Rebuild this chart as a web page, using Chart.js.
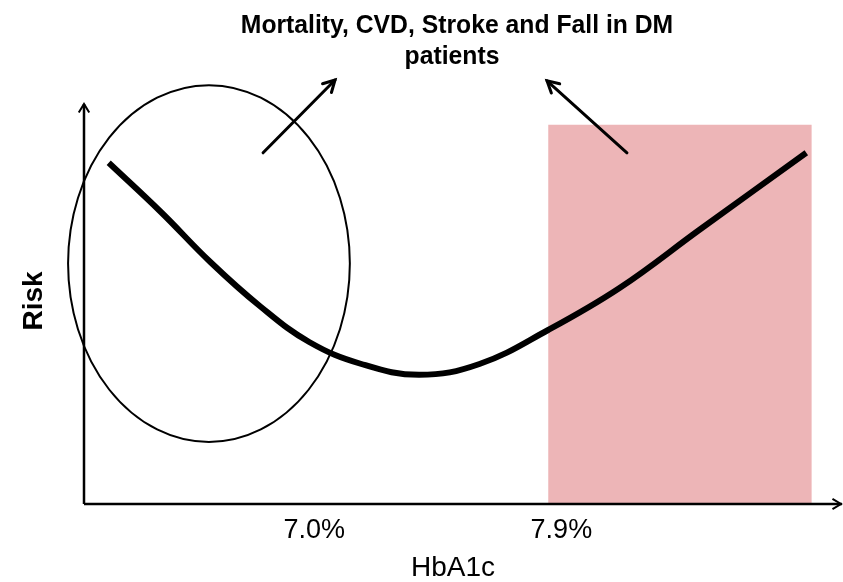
<!DOCTYPE html>
<html>
<head>
<meta charset="utf-8">
<title>HbA1c and Risk</title>
<script src="https://cdn.jsdelivr.net/npm/chart.js@4/dist/chart.umd.min.js"></script>
<style>
  html, body { margin: 0; padding: 0; background: #ffffff; }
  #wrap { width: 843px; height: 582px; }
</style>
</head>
<body>
<div id="wrap"><canvas id="c" width="843" height="582"></canvas></div>
<script>
// U-shaped risk curve against HbA1c
const hba1c = [6.25, 6.44, 6.62, 6.80, 6.98, 7.17, 7.38, 7.60, 7.85, 8.11, 8.40, 8.79];
const risk  = [85.3, 73.0, 60.5, 49.5, 40.5, 35.0, 32.3, 35.0, 43.5, 54.0, 68.5, 87.8];

// axis ranges and tick labels
const xRange = [6.16, 8.92];
const yRange = [0, 100];
const tickValues = [7.0, 7.9];
const tickLabels = ['7.0%', '7.9%'];

// shaded high-HbA1c band
const bandX = [7.85, 8.81];
const bandTop = 94.8;

// circled low-HbA1c region: centre and radii in data units
const circleCenter = [6.615, 60.1];
const circleRadius = [0.513, 44.6];

// pointer arrows: [tailX, tailY, tipX, tipY]
const pointer1 = [6.812, 87.8, 7.074, 106.0];
const pointer2 = [8.137, 87.8, 7.846, 105.8];

const titleLines = ['Mortality, CVD, Stroke and Fall in DM', 'patients'];
const xTitle = 'HbA1c';
const yTitle = 'Risk';

const FONT = '"Liberation Sans", Arial, sans-serif';

function arrowHead(ctx, x0, y0, x1, y1, len, spread) {
  const a = Math.atan2(y1 - y0, x1 - x0);
  ctx.beginPath();
  ctx.moveTo(x1 - len * Math.cos(a - spread), y1 - len * Math.sin(a - spread));
  ctx.lineTo(x1, y1);
  ctx.lineTo(x1 - len * Math.cos(a + spread), y1 - len * Math.sin(a + spread));
  ctx.stroke();
}

// centred text squeezed slightly in width
function narrowText(ctx, text, x, y, sx) {
  ctx.save();
  ctx.translate(x, y);
  ctx.scale(sx, 1);
  ctx.fillText(text, 0, 0);
  ctx.restore();
}

const decorations = {
  id: 'decorations',
  afterDatasetsDraw(chart) {
    const ctx = chart.ctx;
    const xs = chart.scales.x, ys = chart.scales.y;
    const area = chart.chartArea;
    ctx.save();
    ctx.strokeStyle = '#000';
    ctx.lineCap = 'butt';
    ctx.lineJoin = 'miter';

    // axes with arrow tips
    ctx.lineWidth = 2.5;
    ctx.beginPath();
    ctx.moveTo(area.left, area.bottom);
    ctx.lineTo(area.left, area.top);
    ctx.moveTo(area.left, area.bottom);
    ctx.lineTo(area.right, area.bottom);
    ctx.stroke();
    ctx.lineWidth = 2;
    arrowHead(ctx, area.left, area.bottom, area.left, area.top, 10, 0.55);
    arrowHead(ctx, area.left, area.bottom, area.right - 1, area.bottom, 10, 0.55);

    // ellipse around the low range
    const cx = xs.getPixelForValue(circleCenter[0]);
    const cy = ys.getPixelForValue(circleCenter[1]);
    const rx = xs.getPixelForValue(circleCenter[0] + circleRadius[0]) - cx;
    const ry = cy - ys.getPixelForValue(circleCenter[1] + circleRadius[1]);
    ctx.lineWidth = 2;
    ctx.beginPath();
    ctx.ellipse(cx, cy, rx, ry, 0, 0, Math.PI * 2);
    ctx.stroke();

    // pointer arrows toward the title
    ctx.lineWidth = 3;
    ctx.lineCap = 'round';
    [pointer1, pointer2].forEach(p => {
      const x0 = xs.getPixelForValue(p[0]), y0 = ys.getPixelForValue(p[1]);
      const x1 = xs.getPixelForValue(p[2]), y1 = ys.getPixelForValue(p[3]);
      ctx.beginPath();
      ctx.moveTo(x0, y0);
      ctx.lineTo(x1, y1);
      ctx.stroke();
      arrowHead(ctx, x0, y0, x1, y1, 13, 0.5);
    });
    ctx.restore();
  },
  afterDraw(chart) {
    const ctx = chart.ctx;
    const xs = chart.scales.x;
    ctx.save();
    ctx.fillStyle = '#000';
    ctx.textAlign = 'center';
    ctx.textBaseline = 'alphabetic';

    // title
    ctx.font = 'bold 25.5px ' + FONT;
    narrowText(ctx, titleLines[0], 457, 33, 0.97);
    narrowText(ctx, titleLines[1], 452, 64, 0.97);

    // x tick labels
    ctx.font = '27px ' + FONT;
    tickValues.forEach((v, i) => {
      ctx.fillText(tickLabels[i], xs.getPixelForValue(v) - 0.5, 538);
    });

    // x axis title
    ctx.font = '28px ' + FONT;
    ctx.fillText(xTitle, 453, 576);

    // y axis title, rotated
    ctx.font = 'bold 28px ' + FONT;
    ctx.translate(42, 301);
    ctx.rotate(-Math.PI / 2);
    ctx.fillText(yTitle, 0, 0);
    ctx.restore();
  }
};

new Chart(document.getElementById('c'), {
  type: 'line',
  data: {
    datasets: [
      {
        label: 'Risk',
        data: hba1c.map((x, i) => ({ x, y: risk[i] })),
        borderColor: '#000',
        borderWidth: 6,
        borderCapStyle: 'butt',
        pointRadius: 0,
        tension: 0.4,
        fill: false,
        order: 1
      },
      {
        label: 'High HbA1c',
        data: [{ x: bandX[0], y: bandTop }, { x: bandX[1], y: bandTop }],
        borderWidth: 0,
        borderColor: 'rgba(0,0,0,0)',
        backgroundColor: '#EDB5B7',
        pointRadius: 0,
        fill: 'origin',
        order: 2
      }
    ]
  },
  options: {
    responsive: false,
    animation: false,
    devicePixelRatio: 1,
    layout: { padding: { left: 84, right: 1, top: 104, bottom: 78 } },
    scales: {
      x: { type: 'linear', min: xRange[0], max: xRange[1], display: false },
      y: { type: 'linear', min: yRange[0], max: yRange[1], display: false }
    },
    plugins: {
      legend: { display: false },
      title: { display: false },
      tooltip: { enabled: false }
    }
  },
  plugins: [decorations]
});
</script>
</body>
</html>
